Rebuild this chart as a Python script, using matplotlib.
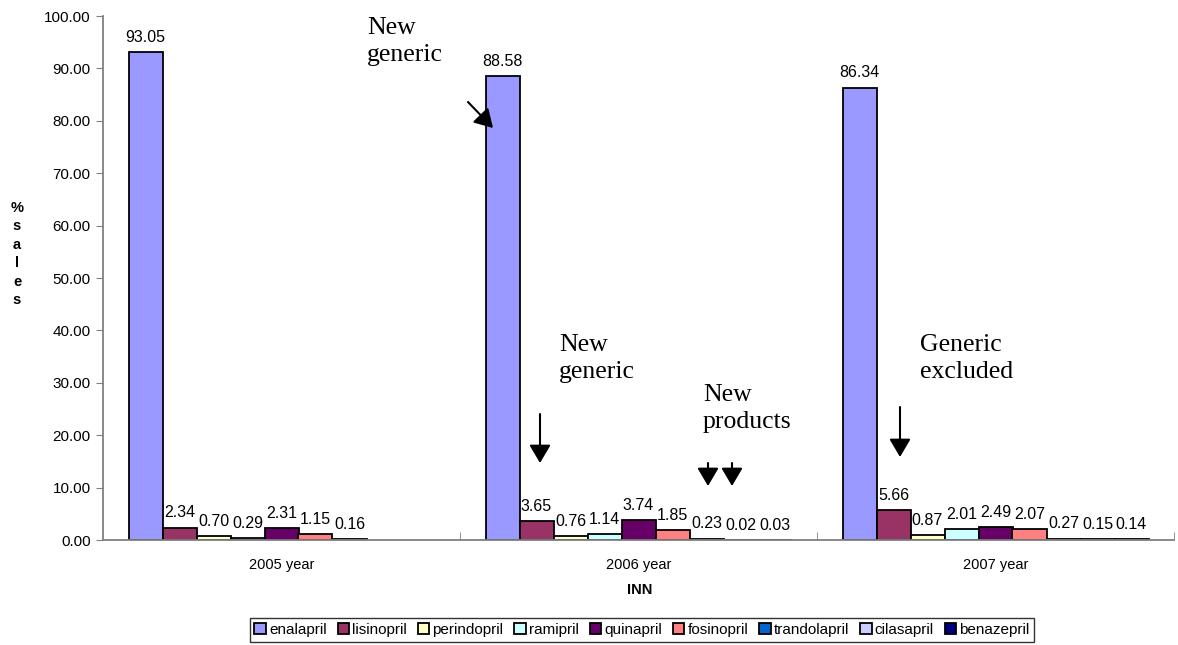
import numpy as np
import matplotlib
matplotlib.use("Agg")
import matplotlib.pyplot as plt
from matplotlib.patches import FancyArrowPatch

years = ["2005 year", "2006 year", "2007 year"]
drugs = ["enalapril", "lisinopril", "perindopril", "ramipril", "quinapril",
         "fosinopril", "trandolapril", "cilasapril", "benazepril"]
enalapril = [93.05, 88.58, 86.34]
lisinopril = [2.34, 3.65, 5.66]
perindopril = [0.70, 0.76, 0.87]
ramipril = [0.29, 1.14, 2.01]
quinapril = [2.31, 3.74, 2.49]
fosinopril = [1.15, 1.85, 2.07]
trandolapril = [0.16, 0.23, 0.27]
cilasapril = [None, 0.02, 0.15]
benazepril = [None, 0.03, 0.14]
series = [enalapril, lisinopril, perindopril, ramipril, quinapril,
          fosinopril, trandolapril, cilasapril, benazepril]
colors = ["#9999FF", "#993366", "#FFFFCC", "#CCFFFF", "#660066",
          "#FF8080", "#0066CC", "#CCCCFF", "#000080"]
yticks = np.arange(0, 101, 10)

W, H = 1178, 645
fig = plt.figure(figsize=(W / 100, H / 100), dpi=100)
ax = fig.add_axes([103 / W, 1 - 540 / H, (1174 - 103) / W, (540 - 16) / H])

n = len(drugs)
bw = 1.0 / (n + 1.5)
x = np.arange(len(years))
handles = []
for i, (name, vals, c) in enumerate(zip(drugs, series, colors)):
    xs = x - 0.5 + 0.75 * bw + (i + 0.5) * bw
    v = np.array([np.nan if a is None else a for a in vals], dtype=float)
    mask = ~np.isnan(v)
    bars = ax.bar(xs[mask], v[mask], width=bw, color=c, edgecolor="black",
                  linewidth=1.3, label=name)
    for b, val in zip(bars, v[mask]):
        ax.text(b.get_x() + b.get_width() / 2, val + 1.4, f"{val:.2f}",
                ha="center", va="bottom", fontsize=11.5, family="Liberation Sans")
    handles.append(bars)

ax.set_xlim(-0.5, 2.5)
ax.set_ylim(0, 100)
ax.set_yticks(yticks)
ax.set_yticklabels([f"{t:.2f}" for t in yticks], family="Liberation Sans", fontsize=11)
ax.set_xticks(x)
ax.set_xticklabels(years, family="Liberation Sans", fontsize=10.5)
ax.set_xticks([0.5, 1.5, 2.5], minor=True)
ax.tick_params(axis="x", which="major", length=0, pad=13)
ax.tick_params(axis="x", which="minor", length=6, direction="in", color="#808080")
ax.tick_params(axis="y", length=5, direction="out", color="#808080", pad=4)
for s in ["top", "right"]:
    ax.spines[s].set_visible(False)
for s in ["left", "bottom"]:
    ax.spines[s].set_color("#808080")
    ax.spines[s].set_linewidth(1.3)

fig.text(17 / W, 1 - 254 / H, "%\ns\na\nl\ne\ns", ha="center", va="center",
         fontsize=10.5, fontweight="bold", family="Liberation Sans", linespacing=1.4)
fig.text(640 / W, 1 - 590 / H, "INN", ha="center", va="center",
         fontsize=10.5, fontweight="bold", family="Liberation Sans")

leg = fig.legend(handles=handles, labels=drugs, loc="center",
                 bbox_to_anchor=(642 / W, 1 - 630 / H), ncol=n, frameon=True,
                 fancybox=False, edgecolor="black", handlelength=0.75,
                 handleheight=0.75, handletextpad=0.2, columnspacing=0.72,
                 borderpad=0.3, borderaxespad=0,
                 prop={"family": "Liberation Sans", "size": 11})
leg.get_frame().set_linewidth(1.0)

def ftxt(px, py, s):
    fig.text(px / W, 1 - py / H, s, ha="left", va="top", fontsize=18.5,
             family="Liberation Serif", linespacing=1.3)

def farrow(x0, y0, x1, y1):
    a = FancyArrowPatch((x0 / W, 1 - y0 / H), (x1 / W, 1 - y1 / H),
                        transform=fig.transFigure,
                        arrowstyle="-|>,head_length=11,head_width=6.5",
                        mutation_scale=1, color="black", linewidth=1.5,
                        shrinkA=0, shrinkB=0)
    fig.patches.append(a)

ftxt(367, 17, "New\ngeneric")
farrow(468, 102, 493, 128)
ftxt(559, 334, "New\ngeneric")
farrow(540, 414, 540, 463)
ftxt(703, 384, "New\nproducts")
farrow(708, 463, 708, 486)
farrow(732, 463, 732, 486)
ftxt(920, 334, "Generic\nexcluded")
farrow(900, 407, 900, 457)

fig.savefig("out.png", dpi=100)
